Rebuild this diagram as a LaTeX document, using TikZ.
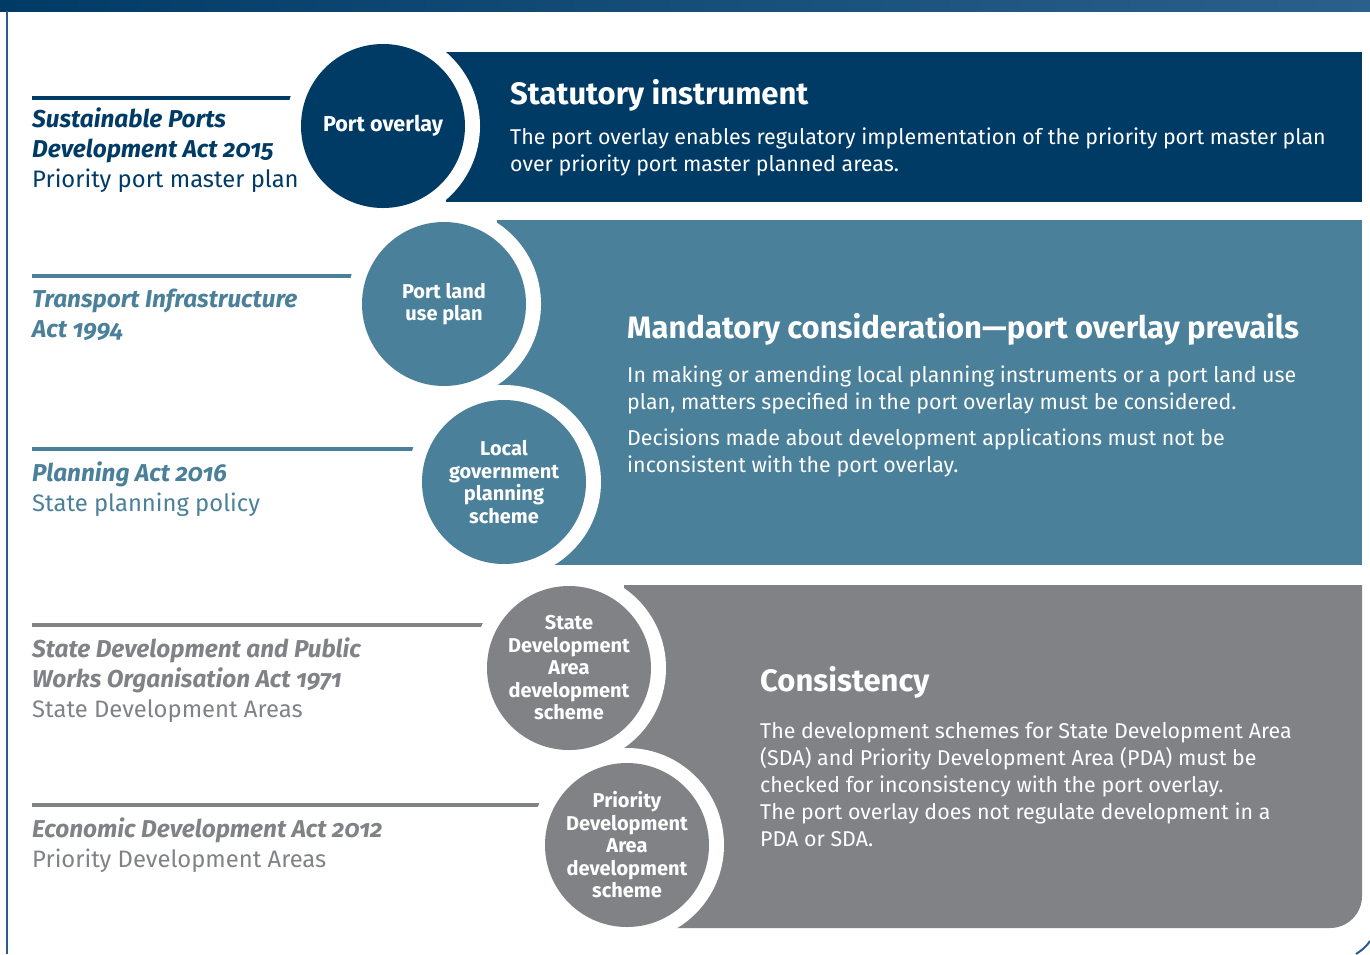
\documentclass[tikz,border=0pt]{standalone}
\usepackage{fontspec}
\setmainfont{Fira Sans}[Numbers=OldStyle]
\definecolor{navy}{RGB}{0,59,102}
\definecolor{barright}{RGB}{44,96,140}
\definecolor{framec}{RGB}{40,92,138}
\definecolor{tealband}{RGB}{74,128,153}
\definecolor{grayband}{RGB}{128,130,134}
\newcommand{\actn}[1]{{\fontsize{24.4}{30}\selectfont\bfseries\itshape #1}}
\begin{document}
\begin{tikzpicture}[x=1pt,y=-1pt,
  bigcircle/.style={circle, minimum size=164pt, inner sep=0pt, text=white, align=center,
    font=\fontsize{20}{22.5}\selectfont\bfseries},
  titletext/.style={anchor=base west, inner sep=0pt, text=white,
    font=\fontsize{31}{36}\selectfont\bfseries},
  bodytext/.style={anchor=base west, inner sep=0pt, text=white, align=left,
    font=\fontsize{21.4}{27}\selectfont},
  acttext/.style={anchor=base west, inner sep=0pt, align=left,
    font=\fontsize{23.8}{30}\selectfont},
  ring/.style={fill=white}
]
\useasboundingbox (0,0) rectangle (1370,954);
% top bar and frame
\shade[left color=navy, right color=barright] (0,0) rectangle (1370,11);
\draw[framec, line width=2pt] (7,11) -- (7,954);
\draw[framec, line width=2pt] (1356,954) .. controls (1362,950) and (1366,947) .. (1370,941);
% bands
\fill[navy] (446,52) rectangle (1362,202);
\fill[tealband] (497,220) rectangle (1362,565);
\fill[grayband] (624,585) -- (1362,585) -- (1362,896)
  arc[start angle=0, end angle=90, radius=32] -- (624,928) -- cycle;
% left rules
\fill[navy] (32,95.5) rectangle (330,99.5);
\fill[tealband] (32,274) rectangle (390,278);
\fill[tealband] (32,447) rectangle (450,451);
\fill[grayband] (32,623) rectangle (520,627);
\fill[grayband] (32,803) rectangle (580,807);
% white rings
\coordinate (p1) at (383,126);
\coordinate (p2) at (444,304);
\coordinate (p3) at (504,482);
\coordinate (p4) at (569,668);
\coordinate (p5) at (627,845);
\foreach \p in {p1,p2,p3,p4,p5} \fill[ring] (\p) circle (97pt);
% circles
\node[bigcircle, fill=navy, font=\fontsize{21.6}{24}\selectfont\bfseries] (c1) at (p1) {Port overlay};
\node[bigcircle, fill=tealband] (c2) at (p2) {Port land\\use plan};
\node[bigcircle, fill=tealband] (c3) at (p3) {Local\\government\\planning\\scheme};
\node[bigcircle, fill=grayband] (c4) at (p4) {State\\Development\\Area\\development\\scheme};
\node[bigcircle, fill=grayband] (c5) at (p5) {Priority\\Development\\Area\\development\\scheme};
% band texts (multi-line nodes anchored at the baseline of their last line)
\node[titletext] (t1) at (510,104) {Statutory instrument};
\node[bodytext] (b1) at (510,171) {The port overlay enables regulatory implementation of the priority port master plan\\over priority port master planned areas.};
\node[titletext] (t2) at (627,338) {Mandatory consideration—port overlay prevails};
\node[bodytext] (b2) at (627,472) {In making or amending local planning instruments or a port land use\\plan, matters specified in the port overlay must be considered.\\[9pt]Decisions made about development applications must not be\\inconsistent with the port overlay.};
\node[titletext] (t3) at (760,691) {Consistency};
\node[bodytext] (b3) at (760,846) {The development schemes for State Development Area\\(SDA) and Priority Development Area (PDA) must be\\checked for inconsistency with the port overlay.\\The port overlay does not regulate development in a\\PDA or SDA.};
% left texts
\node[acttext, text=navy] (a1) at (32,187) {\actn{Sustainable Ports}\\\actn{Development Act 2015}\\Priority port master plan};
\node[acttext, text=tealband] (a2) at (32,337) {\actn{Transport Infrastructure}\\\actn{Act 1994}};
\node[acttext, text=tealband] (a3) at (32,511) {\actn{Planning Act 2016}\\State planning policy};
\node[acttext, text=grayband] (a4) at (32,717) {\actn{State Development and Public}\\\actn{Works Organisation Act 1971}\\State Development Areas};
\node[acttext, text=grayband] (a5) at (32,867) {\actn{Economic Development Act 2012}\\Priority Development Areas};
\end{tikzpicture}
\end{document}
